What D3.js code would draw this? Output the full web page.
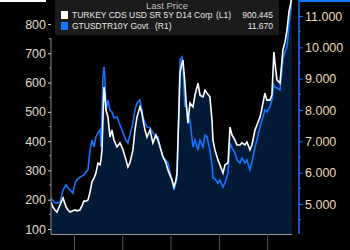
<!DOCTYPE html>
<html lang="en">
<head>
  <meta charset="utf-8">
  <title>Turkey CDS vs USD 10Y</title>
  <script src="https://d3js.org/d3.v7.min.js"></script>
  <style>
  body {
    margin: 0;
    background: black;
  }
  svg text {
    font-family: "Liberation Sans", Arial, sans-serif;
  }
  </style>
</head>
<body>
<script type="text/javascript">

// Data
var dates = ["2017-07-11","2017-07-26","2017-08-10","2017-08-25","2017-09-17","2017-10-10","2017-11-02","2017-11-17",
  "2017-12-02","2017-12-24","2018-01-09","2018-01-24","2018-02-15","2018-03-02","2018-03-18","2018-04-02","2018-04-17",
  "2018-05-02","2018-05-17","2018-06-01","2018-06-16","2018-07-01","2018-07-17","2018-07-24","2018-08-01","2018-08-08",
  "2018-08-16","2018-08-23","2018-08-31","2018-09-15","2018-09-30","2018-10-15","2018-10-30","2018-11-22","2018-12-15",
  "2019-01-07","2019-01-29","2019-02-13","2019-02-28","2019-03-23","2019-04-07","2019-04-22","2019-05-15","2019-05-30",
  "2019-06-07","2019-06-22","2019-07-07","2019-07-30","2019-08-21","2019-09-13","2019-09-28","2019-10-21","2019-11-05",
  "2019-11-28","2019-12-13","2019-12-28","2020-01-12","2020-01-27","2020-02-11","2020-02-19","2020-03-05","2020-03-13",
  "2020-03-28","2020-04-04","2020-04-19","2020-04-27","2020-05-12","2020-05-27","2020-06-19","2020-07-04","2020-07-27",
  "2020-08-11","2020-09-03","2020-09-18","2020-10-03","2020-10-25","2020-11-10","2020-11-17","2020-12-02","2020-12-25",
  "2021-01-09","2021-02-01","2021-02-16","2021-03-11","2021-03-26","2021-04-10","2021-05-02","2021-05-18","2021-06-09",
  "2021-06-24","2021-07-17","2021-08-01","2021-08-24","2021-09-08","2021-10-01","2021-10-16","2021-11-08","2021-11-23",
  "2021-12-15","2021-12-30","2022-01-22","2022-02-06","2022-02-21","2022-03-01","2022-03-16","2022-04-08","2022-04-30",
  "2022-05-16","2022-05-31","2022-06-15","2022-06-30","2022-07-08"];

// TURKEY CDS USD SR 5Y D14 Corp (L1)
var cds = [192,175,165,158,182,206,175,165,158,162,165,162,165,179,196,195,199,
  226,261,274,291,325,319,336,370,482,585,558,506,482,414,438,404,380,394,
  370,336,312,326,370,438,482,517,496,472,438,414,438,394,421,404,370,346,
  325,301,284,267,243,267,291,506,633,667,677,598,540,462,530,517,557,598,
  557,551,574,564,551,472,404,370,336,319,291,319,326,448,421,404,387,387,
  394,387,397,370,387,438,455,482,513,564,540,540,557,704,667,609,598,711,
  738,779,841,875,900.445];

// GTUSDTR10Y Govt (R1)
var yld = [5.19,5.10,5.03,5.03,5.06,5.45,5.61,5.51,5.45,5.35,5.67,5.77,5.86,5.89,5.93,6.02,6.09,
  6.72,7.04,6.82,7.14,7.27,7.36,6.82,8.00,9.05,9.37,9.02,8.00,8.32,8.00,7.94,7.75,7.78,7.52,
  7.27,7.04,6.95,7.20,7.59,8.00,8.22,8.32,8.00,7.78,7.59,7.46,7.43,7.27,7.11,7.14,6.72,6.50,
  6.40,6.31,6.02,5.77,5.45,5.67,5.83,8.32,9.60,9.69,9.44,8.10,8.32,7.59,7.68,6.82,7.04,6.72,
  7.04,6.82,7.20,7.14,6.72,6.24,5.83,5.80,5.67,5.77,5.54,5.67,5.99,6.95,6.79,6.63,6.40,6.31,
  6.47,6.31,6.40,6.09,6.34,6.82,7.04,7.46,7.68,8.00,7.94,8.10,8.32,8.80,8.73,8.70,8.64,9.60,
  9.85,10.01,10.71,11.26,11.67];

var leftTicks = [100,200,300,400,500,600,700,800];
var rightTicks = [5,6,7,8,9,10,11];
var yearTicks = ["2018-01-01","2019-01-01","2020-01-01","2021-01-01","2022-01-01"];

var legendNames = ["TURKEY CDS USD SR 5Y D14 Corp", "GTUSDTR10Y Govt"];
var legendAxis = ["(L1)", "(R1)"];
var legendLast = ["900.445", "11.670"];

var parse = d3.timeParse("%Y-%m-%d");
var data = dates.map(function(d, i) {
  return {date: parse(d), cds: cds[i], yld: yld[i]};
});

var width = 350, height = 250;
var plot = {left: 51, right: 292, top: 0, bottom: 234};

var svg = d3.select("body").append("svg")
  .attr("width", width)
  .attr("height", height);

// Scales
var xScale = d3.scaleTime()
  .domain([parse("2017-07-11"), parse("2022-07-08")])
  .range([plot.left, plot.right]);

var yLeft = d3.scaleLinear()
  .domain([100, 800])
  .range([229, 24]);

var yRight = d3.scaleLinear()
  .domain([5, 11])
  .range([204, 16]);

svg.append("clipPath").attr("id", "clip")
  .append("rect")
  .attr("x", plot.left).attr("y", plot.top)
  .attr("width", plot.right - plot.left)
  .attr("height", plot.bottom - plot.top);

var g = svg.append("g").attr("clip-path", "url(#clip)");

// area under the CDS line
var area = d3.area()
  .x(function(d) { return xScale(d.date); })
  .y0(plot.bottom)
  .y1(function(d) { return yLeft(d.cds); });

g.append("path")
  .datum(data)
  .attr("d", area)
  .attr("fill", "#031a36");

var lineCds = d3.line()
  .x(function(d) { return xScale(d.date); })
  .y(function(d) { return yLeft(d.cds); });

var lineYld = d3.line()
  .x(function(d) { return xScale(d.date); })
  .y(function(d) { return yRight(d.yld); });

g.append("path")
  .datum(data)
  .attr("d", lineYld)
  .attr("fill", "none")
  .attr("stroke", "#1476ff")
  .attr("stroke-width", 1.6);

g.append("path")
  .datum(data)
  .attr("d", lineCds)
  .attr("fill", "none")
  .attr("stroke", "white")
  .attr("stroke-width", 1.6);

// Left axis
var leftAxis = d3.axisLeft(yLeft)
  .tickValues(leftTicks)
  .tickSize(3)
  .tickPadding(2)
  .tickFormat(d3.format("d"));

var la = svg.append("g")
  .attr("transform", "translate(" + plot.left + ",0)")
  .call(leftAxis);
la.select(".domain").attr("d", "M0,38V" + plot.bottom).attr("stroke", "#8a8a8a");
la.selectAll("line").attr("stroke", "#cfcfcf");
la.selectAll("text").attr("fill", "#e2dccf").style("font-size", "12.5px");

// minor left ticks
svg.append("g").selectAll("line")
  .data(leftTicks.slice(0, -1).map(function(d) { return d + 50; }))
  .enter().append("line")
  .attr("x1", plot.left - 2).attr("x2", plot.left)
  .attr("y1", function(d) { return yLeft(d); })
  .attr("y2", function(d) { return yLeft(d); })
  .attr("stroke", "#8a8a8a");

// Right axis
var rightAxis = d3.axisRight(yRight)
  .tickValues(rightTicks)
  .tickSize(4)
  .tickPadding(2)
  .tickFormat(d3.format(".3f"));

var ra = svg.append("g")
  .attr("transform", "translate(299,0)")
  .call(rightAxis);
ra.select(".domain").attr("d", "M0,0V" + plot.bottom).attr("stroke", "#1476ff").attr("stroke-width", 1.5);
ra.selectAll("line").attr("stroke", "#1476ff");
ra.selectAll("text").attr("fill", "#eed8b6").style("font-size", "12.5px");

svg.append("g").selectAll("line")
  .data([4.5].concat(rightTicks.map(function(d) { return d + 0.5; })))
  .enter().append("line")
  .attr("x1", 299).attr("x2", 301)
  .attr("y1", function(d) { return yRight(d); })
  .attr("y2", function(d) { return yRight(d); })
  .attr("stroke", "#1476ff");

// Bottom axis
var bottomAxis = d3.axisBottom(xScale)
  .tickValues(yearTicks.map(parse))
  .tickSize(16)
  .tickFormat("");

var ba = svg.append("g")
  .attr("transform", "translate(0," + plot.bottom + ")")
  .call(bottomAxis);
ba.select(".domain").attr("d", "M" + plot.left + ",0.5H" + plot.right).attr("stroke", "#9a9a9a");
ba.selectAll("line").attr("stroke", "#555");

// bits of other panels at the top edge
svg.append("rect").attr("x", 0).attr("y", 0).attr("width", 46).attr("height", 2).attr("fill", "white");
svg.append("rect").attr("x", 300).attr("y", 0).attr("width", 50).attr("height", 2).attr("fill", "#1476ff");

// Legend
var legend = svg.append("g");
legend.append("rect")
  .attr("x", 55).attr("y", -2)
  .attr("width", 224).attr("height", 37)
  .attr("fill", "#1b1b1b");

legend.append("text")
  .attr("x", 167).attr("y", 8.5)
  .attr("text-anchor", "middle")
  .attr("fill", "#bdbdbd")
  .style("font-size", "9.5px")
  .text("Last Price");

var colors = ["white", "#1476ff"];
var rows = legend.selectAll(".row")
  .data(legendNames)
  .enter().append("g")
  .attr("class", "row")
  .attr("transform", function(d, i) { return "translate(0," + (15 + i * 11) + ")"; });

rows.append("rect")
  .attr("x", 61).attr("y", -4)
  .attr("width", 7).attr("height", 8)
  .attr("fill", function(d, i) { return colors[i]; });

rows.append("text")
  .attr("x", 72).attr("y", 3)
  .attr("fill", "#e6e6e6")
  .style("font-size", "8.5px")
  .text(function(d) { return d; });

rows.append("text")
  .attr("x", function(d, i) { return i == 0 ? 216 : 155; })
  .attr("y", 3)
  .attr("fill", "#e6e6e6")
  .style("font-size", "8.5px")
  .text(function(d, i) { return legendAxis[i]; });

rows.append("text")
  .attr("x", 273).attr("y", 3)
  .attr("text-anchor", "end")
  .attr("fill", "#e6e6e6")
  .style("font-size", "8.5px")
  .text(function(d, i) { return legendLast[i]; });

</script>
</body>
</html>
